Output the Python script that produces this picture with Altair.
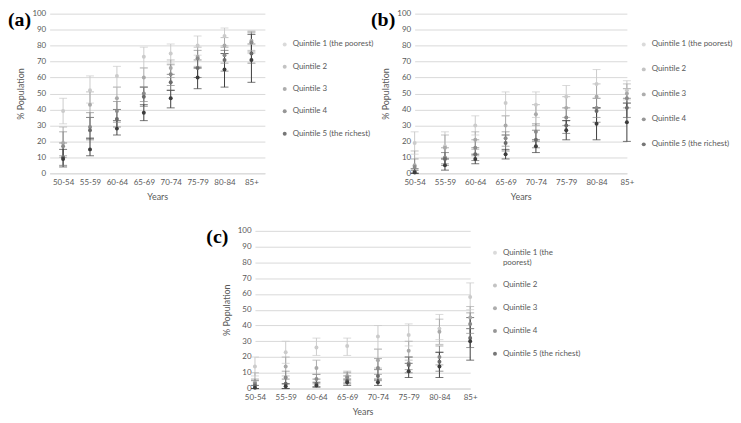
import altair as alt
import pandas as pd

ages = ["50-54", "55-59", "60-64", "65-69", "70-74", "75-79", "80-84", "85+"]
quintiles = ["Quintile 1 (the poorest)", "Quintile 2", "Quintile 3", "Quintile 4",
             "Quintile 5 (the richest)"]
colors = ["#cbcbcb", "#a9a9a9", "#8a8a8a", "#6a6a6a", "#3c3c3c"]

# Panel (a)
a_val = [[39, 52, 61, 73, 75, 80, 86, 82],
         [19, 43, 47, 60, 66, 73, 80, 83],
         [17, 29, 39, 50, 62, 72, 74, 82],
         [10, 27, 34, 48, 57, 66, 71, 75],
         [9, 15, 28, 38, 47, 60, 65, 71]]
a_lo = [[31, 44, 54, 66, 69, 74, 80, 75],
        [10, 35, 40, 54, 60, 67, 75, 77],
        [11, 22, 32, 45, 55, 66, 69, 76],
        [5, 21, 29, 42, 52, 60, 64, 69],
        [4, 11, 24, 33, 41, 53, 54, 57]]
a_hi = [[47, 61, 67, 79, 81, 86, 91, 89],
        [29, 51, 54, 66, 71, 79, 85, 89],
        [26, 38, 45, 54, 68, 77, 79, 88],
        [19, 35, 40, 54, 62, 71, 77, 81],
        [15, 22, 33, 43, 52, 66, 75, 87]]

# Panel (b)
b_val = [[19, 17, 30, 44, 43, 48, 56, 52],
         [5, 16, 21, 30, 37, 41, 48, 50],
         [4, 10, 16, 22, 26, 35, 41, 47],
         [1, 9, 12, 19, 21, 30, 39, 41],
         [0.5, 5, 9, 12, 17, 27, 31, 32]]
b_lo = [[12, 10, 24, 36, 35, 41, 47, 46],
        [0, 9, 15, 24, 30, 35, 41, 44],
        [0, 6, 11, 17, 20, 30, 35, 41],
        [0, 5, 8, 14, 16, 25, 32, 35],
        [0, 2, 6, 9, 13, 21, 21, 20]]
b_hi = [[26, 26, 36, 51, 51, 55, 65, 58],
        [14, 24, 26, 36, 43, 48, 56, 56],
        [9, 16, 21, 26, 31, 41, 47, 53],
        [3, 13, 16, 24, 27, 33, 41, 47],
        [2, 9, 12, 15, 21, 33, 41, 44]]

# Panel (c)
c_val = [[14, 23, 26, 27, 33, 34, 38, 58],
         [4, 14, 13, 8, 18, 24, 36, 45],
         [3, 7, 6, 7, 13, 16, 20, 41],
         [2, 3, 3, 5, 8, 15, 17, 32],
         [0.5, 1.5, 2, 4, 4, 11, 14, 30]]
c_lo = [[8, 16, 21, 21, 25, 27, 31, 50],
        [0, 8, 9, 5, 13, 18, 28, 38],
        [0, 3, 3, 4, 9, 12, 15, 35],
        [0, 0, 1, 3, 5, 10, 11, 26],
        [0, 0, 1, 2, 2, 7, 7, 18]]
c_hi = [[20, 30, 32, 32, 40, 41, 47, 67],
        [10, 20, 18, 11, 25, 30, 44, 52],
        [6, 11, 9, 10, 19, 20, 27, 48],
        [5, 6, 6, 8, 12, 20, 23, 38],
        [2, 3, 4, 6, 6, 16, 23, 45]]

y_ticks = [0, 10, 20, 30, 40, 50, 60, 70, 80, 90, 100]

FONT = "Lato"
GREY = "#595959"


def table(val, lo, hi):
    rows = []
    for qi, q in enumerate(quintiles):
        for ai, a in enumerate(ages):
            rows.append({"age": a, "q": q, "qi": qi, "val": val[qi][ai],
                         "lo": lo[qi][ai], "hi": hi[qi][ai]})
    return pd.DataFrame(rows)


def panel(label, val, lo, hi, w, h, xpad, leg_x, leg_y, row_pad, lab_dx, lab_dy, wrap=False):
    df = table(val, lo, hi)
    base = alt.Chart(df)
    xenc = alt.X("age:N", sort=ages, scale=alt.Scale(type="point", padding=xpad),
                 axis=alt.Axis(title="Years", labelAngle=0, labelFontSize=8, labelFont=FONT,
                               labelColor=GREY, titleFont=FONT, titleFontSize=9,
                               titleFontWeight="normal", titleColor=GREY, ticks=False,
                               domain=True, domainColor="#d9d9d9", grid=False,
                               labelPadding=5, titlePadding=6))
    yaxis = alt.Axis(title="% Population", values=y_ticks, tickCount=11, labelOverlap=False,
                     labelFontSize=8, labelFont=FONT, labelColor=GREY, titleFont=FONT,
                     titleFontSize=9, titleFontWeight="normal", titleColor=GREY, ticks=False,
                     domain=False, grid=True, gridColor="#d9d9d9", labelPadding=4,
                     titlePadding=6)
    yscale = alt.Scale(domain=[0, 100], nice=False)
    cscale = alt.Scale(domain=quintiles, range=colors)
    leg_kwargs = dict(title=None, orient="none", legendX=leg_x, legendY=leg_y,
                      labelFont=FONT, labelFontSize=8, labelColor=GREY,
                      symbolType="circle", symbolSize=16, symbolStrokeWidth=0,
                      rowPadding=row_pad, labelOffset=4, labelLimit=200)
    if wrap:
        leg_kwargs["labelExpr"] = ("datum.label == 'Quintile 1 (the poorest)' ? "
                                   "['Quintile 1 (the', 'poorest)'] : datum.label")
    cenc = alt.Color("q:N", scale=cscale, legend=alt.Legend(**leg_kwargs))
    rules = base.mark_rule(strokeWidth=1).encode(
        x=xenc, y=alt.Y("lo:Q", scale=yscale, axis=yaxis, title="% Population"), y2="hi:Q",
        color=cenc, order=alt.Order("qi:Q"))
    cap_lo = base.mark_tick(size=8, thickness=1).encode(
        x=xenc, y=alt.Y("lo:Q", scale=yscale, axis=yaxis, title="% Population"), color=cenc)
    cap_hi = base.mark_tick(size=8, thickness=1).encode(
        x=xenc, y=alt.Y("hi:Q", scale=yscale, axis=yaxis, title="% Population"), color=cenc)
    pts = base.mark_point(filled=True, size=16, opacity=1, shape="circle").encode(
        x=xenc, y=alt.Y("val:Q", scale=yscale, axis=yaxis, title="% Population"),
        color=cenc, order=alt.Order("qi:Q"))
    txt = alt.Chart(pd.DataFrame({"t": [label]})).mark_text(
        font="Liberation Serif", fontWeight="bold", fontSize=20, align="left",
        baseline="top", color="#000000").encode(
        text="t:N", x=alt.value(lab_dx), y=alt.value(lab_dy))
    return alt.layer(rules, cap_lo, cap_hi, pts, txt).properties(width=w, height=h)


A = panel("(a)", a_val, a_lo, a_hi, 217, 161, 0.5, 233, 27, 14.5, -42, -4)
B = panel("(b)", b_val, b_lo, b_hi, 214, 161, 0.0, 227, 27, 17.2, -44, -4)
C = panel("(c)", c_val, c_lo, c_hi, 217, 159, 0.0, 238, 18, 15, -49, -4, wrap=True)

spacer = alt.Chart(pd.DataFrame({"a": [0]})).mark_point(opacity=0).properties(width=197, height=10)

row1 = alt.hconcat(A, B, spacing=151, bounds="flush").resolve_scale(color="independent")
row2 = alt.hconcat(spacer, C, spacing=10, bounds="flush").resolve_scale(color="independent")
chart = alt.vconcat(row1, row2, spacing=26).resolve_scale(
    color="independent").properties(padding=0).configure_view(stroke=None)

chart.save("out.html", embed_options={"renderer": "svg", "actions": False})
